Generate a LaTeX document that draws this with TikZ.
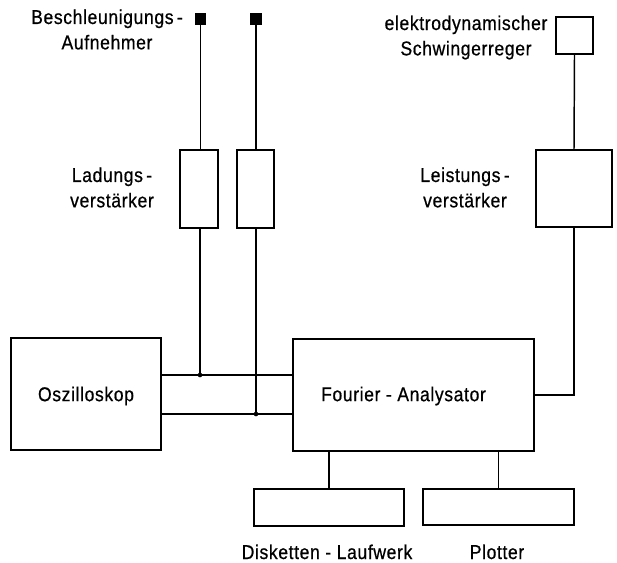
\documentclass[tikz,border=0pt]{standalone}
\usepackage{fontspec}
\setmainfont{Liberation Sans}[FakeStretch=0.88,LetterSpace=3,FakeBold=0.6]
\begin{document}
\begin{tikzpicture}[x=0.75pt,y=-0.75pt,
  box/.style={draw,line width=1.5pt,inner sep=0pt,minimum width=#1},
  wire/.style={line width=1.1pt},
  lbl/.style={align=center,inner sep=0pt,font=\fontsize{15}{19}\selectfont},
  blbl/.style={anchor=base,inner sep=0pt,font=\fontsize{15}{19}\selectfont},
  sensor/.style={fill=black,inner sep=0pt,minimum width=8.5pt,minimum height=9pt},
  dot/.style={circle,fill=black,inner sep=0pt,minimum size=3.5pt}]
\useasboundingbox (0,0) rectangle (617,562);
% sensors
\node[sensor] (s1) at (200.5,18.5) {};
\node[sensor] (s2) at (256,18.5) {};
% charge amplifiers
\node[box=28.5pt,minimum height=58.5pt] (lv1) at (199,189) {};
\node[box=27.75pt,minimum height=58.5pt] (lv2) at (255.5,189) {};
% exciter and power amplifier
\node[box=27.75pt,minimum height=27.75pt] (ex) at (574.5,35.5) {};
\node[box=57pt,minimum height=57.75pt] (ls) at (574,188.5) {};
% oscilloscope and analyser
\node[box=112.5pt,minimum height=84pt] (osz) at (86,394) {};
\node[box=180.75pt,minimum height=84pt] (fa) at (413.5,395) {};
% disk drive and plotter
\node[box=112.5pt,minimum height=27.75pt] (dl) at (329,507.5) {};
\node[box=113.25pt,minimum height=27pt] (pl) at (498.5,507) {};
% labels
\node[lbl] (tb) at (107,29.5) {Beschleunigungs\,-\\Aufnehmer};
\node[lbl] (tl) at (112,187.5) {Ladungs\,-\\verst\"arker};
\node[lbl] (te) at (466,37.5) {elektrodynamischer\\Schwingerreger};
\node[lbl] (tls) at (465,187.5) {Leistungs\,-\\verst\"arker};
\node[lbl] (to) at (86,396) {Oszilloskop};
\node[lbl] (tf) at (403.5,396) {Fourier - Analysator};
\node[blbl] (td) at (327,559) {Disketten - Laufwerk};
\node[blbl] (tp) at (497,559) {Plotter};
% junctions
\coordinate (j1) at (200,375);
\coordinate (j2) at (256,414);
\coordinate (c1) at (574,395);
% wires
\draw[wire] (s1) -- (s1 |- lv1.north);
\draw[wire] (s2) -- (s2 |- lv2.north);
\draw[wire] (j1 |- lv1.south) -- (j1);
\draw[wire] (j2 |- lv2.south) -- (j2);
\draw[wire] (osz.east |- j1) -- (fa.west |- j1);
\draw[wire] (osz.east |- j2) -- (fa.west |- j2);
\node[dot] at (j1) {};
\node[dot] at (j2) {};
\draw[wire] (ex.south) -- (ls.north);
\draw[wire] (ls.south) -- (c1) -- (fa.east |- c1);
\draw[wire] (dl.north |- fa.south) -- (dl.north);
\draw[wire] (pl.north |- fa.south) -- (pl.north);
\end{tikzpicture}
\end{document}
